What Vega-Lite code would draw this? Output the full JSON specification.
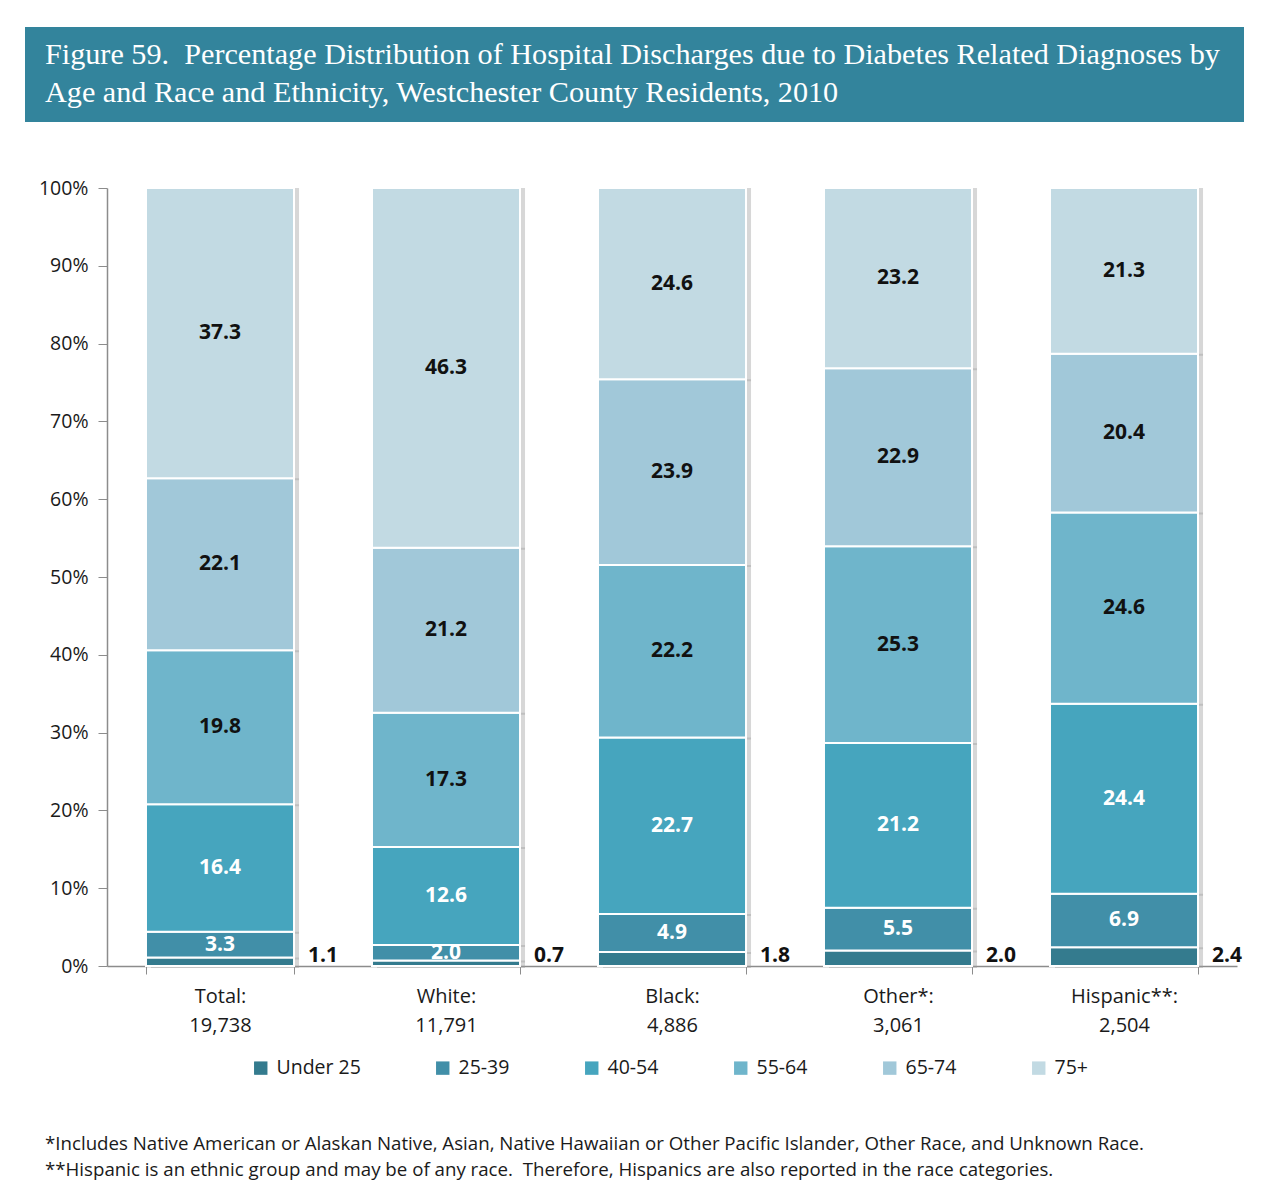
{
  "$schema": "https://vega.github.io/schema/vega-lite/v6.json",
  "background": "white",
  "padding": {"left": 25, "top": 27, "right": 18, "bottom": 10},
  "config": {"font": "Open Sans", "view": {"stroke": null}},
  "spacing": 56,
  "resolve": {"legend": {"color": "independent"}, "scale": {"color": "independent"}},
  "title": {
    "text": ["*Includes Native American or Alaskan Native, Asian, Native Hawaiian or Other Pacific Islander, Other Race, and Unknown Race.", "**Hispanic is an ethnic group and may be of any race.\u00a0 Therefore, Hispanics are also reported in the race categories."],
    "orient": "bottom", "anchor": "start", "dx": 20, "offset": 57,
    "font": "Open Sans", "fontSize": 18.7, "fontWeight": "normal", "color": "#1a1a1a", "lineHeight": 26, "baseline": "top"
  },
  "vconcat": [
    {
      "width": 1219, "height": 95,
      "view": {"fill": "#33849c", "stroke": null},
      "data": {"values": [{"t": ""}]},
      "mark": {"type": "text"},
      "encoding": {"text": {"field": "t"}},
      "title": {
        "text": ["Figure 59.\u00a0 Percentage Distribution of Hospital Discharges due to Diabetes Related Diagnoses by", "Age and Race and Ethnicity, Westchester County Residents, 2010"],
        "anchor": "start", "orient": "top", "offset": -81, "dx": 20,
        "color": "white", "font": "Liberation Serif", "fontSize": 30.2, "fontWeight": "normal", "lineHeight": 38, "baseline": "top"
      }
    },
    {
      "width": 1212, "height": 778,
      "data": {"values": [
        {"group": "Total:\n19,738", "age": "Under 25", "k": 1, "value": 1.1},
        {"group": "Total:\n19,738", "age": "25-39", "k": 2, "value": 3.3},
        {"group": "Total:\n19,738", "age": "40-54", "k": 3, "value": 16.4},
        {"group": "Total:\n19,738", "age": "55-64", "k": 4, "value": 19.8},
        {"group": "Total:\n19,738", "age": "65-74", "k": 5, "value": 22.1},
        {"group": "Total:\n19,738", "age": "75+", "k": 6, "value": 37.3},
        {"group": "White:\n11,791", "age": "Under 25", "k": 1, "value": 0.7},
        {"group": "White:\n11,791", "age": "25-39", "k": 2, "value": 2.0},
        {"group": "White:\n11,791", "age": "40-54", "k": 3, "value": 12.6},
        {"group": "White:\n11,791", "age": "55-64", "k": 4, "value": 17.3},
        {"group": "White:\n11,791", "age": "65-74", "k": 5, "value": 21.2},
        {"group": "White:\n11,791", "age": "75+", "k": 6, "value": 46.3},
        {"group": "Black:\n4,886", "age": "Under 25", "k": 1, "value": 1.8},
        {"group": "Black:\n4,886", "age": "25-39", "k": 2, "value": 4.9},
        {"group": "Black:\n4,886", "age": "40-54", "k": 3, "value": 22.7},
        {"group": "Black:\n4,886", "age": "55-64", "k": 4, "value": 22.2},
        {"group": "Black:\n4,886", "age": "65-74", "k": 5, "value": 23.9},
        {"group": "Black:\n4,886", "age": "75+", "k": 6, "value": 24.6},
        {"group": "Other*:\n3,061", "age": "Under 25", "k": 1, "value": 2.0},
        {"group": "Other*:\n3,061", "age": "25-39", "k": 2, "value": 5.5},
        {"group": "Other*:\n3,061", "age": "40-54", "k": 3, "value": 21.2},
        {"group": "Other*:\n3,061", "age": "55-64", "k": 4, "value": 25.3},
        {"group": "Other*:\n3,061", "age": "65-74", "k": 5, "value": 22.9},
        {"group": "Other*:\n3,061", "age": "75+", "k": 6, "value": 23.2},
        {"group": "Hispanic**:\n2,504", "age": "Under 25", "k": 1, "value": 2.4},
        {"group": "Hispanic**:\n2,504", "age": "25-39", "k": 2, "value": 6.9},
        {"group": "Hispanic**:\n2,504", "age": "40-54", "k": 3, "value": 24.4},
        {"group": "Hispanic**:\n2,504", "age": "55-64", "k": 4, "value": 24.6},
        {"group": "Hispanic**:\n2,504", "age": "65-74", "k": 5, "value": 20.4},
        {"group": "Hispanic**:\n2,504", "age": "75+", "k": 6, "value": 21.3}
      ]},
      "transform": [
        {"stack": "value", "groupby": ["group"], "sort": [{"field": "k"}], "offset": "normalize", "as": ["lo", "hi"]},
        {"calculate": "(datum.lo + datum.hi) / 2", "as": "mid"}
      ],
      "encoding": {
        "x": {
          "field": "group", "type": "nominal", "sort": null, "title": null,
          "scale": {"range": [82, 1212], "paddingInner": 0.345, "paddingOuter": 0.1725},
          "axis": {
            "labelExpr": "split(datum.label, '\\n')", "labelAngle": 0, "labelFontSize": 20, "labelColor": "#1a1a1a",
            "labelLineHeight": 29, "labelPadding": 12, "tickBand": "extent", "tickSize": 8,
            "tickColor": "#8c8c8c", "domainColor": "#8c8c8c", "domainWidth": 1.5, "labelBaseline": "top"
          }
        }
      },
      "layer": [
        {
          "mark": {"type": "bar", "color": "#9a9a9a", "opacity": 0.4, "xOffset": 5, "yOffset": 2},
          "encoding": {
            "y": {"field": "lo", "type": "quantitative"},
            "y2": {"field": "hi"}
          }
        },
        {
          "mark": {"type": "bar", "stroke": "white", "strokeWidth": 2},
          "encoding": {
            "y": {
              "field": "lo", "type": "quantitative", "scale": {"domain": [0, 1]}, "title": null,
              "axis": {
                "format": ".0%", "values": [0, 0.1, 0.2, 0.3, 0.4, 0.5, 0.6, 0.7, 0.8, 0.9, 1],
                "grid": false, "labelFontSize": 19.5, "labelColor": "#1a1a1a", "tickSize": 9, "labelPadding": 10,
                "tickColor": "#8c8c8c", "domainColor": "#8c8c8c", "domainWidth": 1.5, "offset": -82
              }
            },
            "y2": {"field": "hi"},
            "color": {
              "field": "age", "type": "nominal",
              "scale": {
                "domain": ["Under 25", "25-39", "40-54", "55-64", "65-74", "75+"],
                "range": ["#347b8e", "#418fa8", "#46a5be", "#6fb5cb", "#a1c8d9", "#c2dae3"]
              },
              "legend": {
                "title": null, "orient": "none", "legendX": 226, "legendY": 870, "direction": "horizontal", "symbolType": "square",
                "symbolSize": 180, "symbolStrokeWidth": 0, "labelFontSize": 19.5, "labelColor": "#1a1a1a",
                "gridAlign": "each", "columnPadding": 72, "labelOffset": 6
              }
            }
          }
        },
        {
          "transform": [{"filter": "datum.k >= 2"}],
          "mark": {"type": "text", "fontSize": 21, "fontWeight": "bold", "baseline": "middle"},
          "encoding": {
            "y": {"field": "mid", "type": "quantitative"},
            "text": {"field": "value", "type": "quantitative", "format": ".1f"},
            "color": {"condition": {"test": "datum.k <= 3", "value": "white"}, "value": "#111111"}
          }
        },
        {
          "transform": [{"filter": "datum.k == 1"}],
          "mark": {"type": "text", "fontSize": 21, "fontWeight": "bold", "baseline": "bottom", "dx": 103, "dy": 0, "color": "#111111"},
          "encoding": {
            "y": {"datum": 0, "type": "quantitative"},
            "text": {"field": "value", "type": "quantitative", "format": ".1f"}
          }
        }
      ]
    }
  ]
}
